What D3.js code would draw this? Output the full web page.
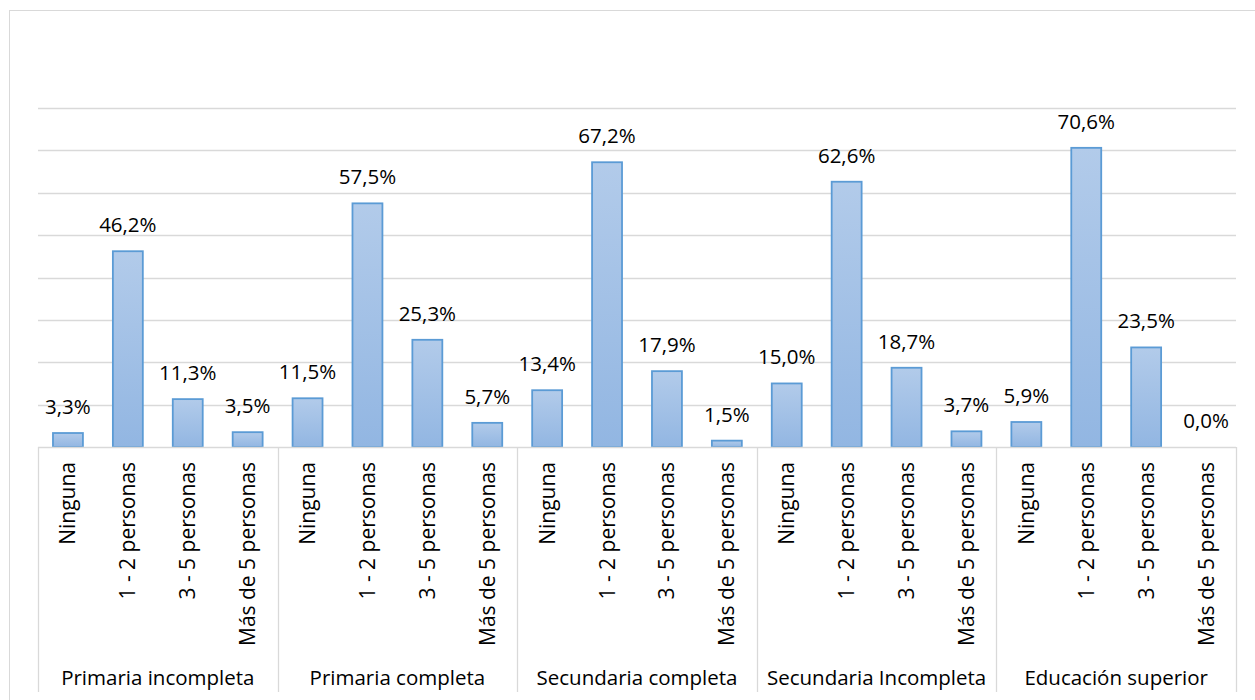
<!DOCTYPE html>
<html><head><meta charset="utf-8">
<script src="https://cdn.jsdelivr.net/npm/d3@7"></script>
<style>body{margin:0;background:#fff;} text{font-family:"Open Sans","Noto Sans",sans-serif;fill:#000;}</style>
</head><body>
<svg id="c" width="1255" height="700"></svg>
<script>
const groups = ["Primaria incompleta","Primaria completa","Secundaria completa","Secundaria Incompleta","Educación superior"];
const categories = ["Ninguna","1 - 2 personas","3 - 5 personas","Más de 5 personas"];
const values = [
  [3.3,46.2,11.3,3.5],
  [11.5,57.5,25.3,5.7],
  [13.4,67.2,17.9,1.5],
  [15.0,62.6,18.7,3.7],
  [5.9,70.6,23.5,0.0]
];
const yTicks = [0,10,20,30,40,50,60,70,80];

const svg = d3.select("#c");
const L=38, R=1236, T=108, B=447, BOT=692;
const defs = svg.append("defs");
const g = defs.append("linearGradient").attr("id","bg").attr("x1",0).attr("y1",0).attr("x2",0).attr("y2",1);
g.append("stop").attr("offset","0%").attr("stop-color","#b2cbea");
g.append("stop").attr("offset","100%").attr("stop-color","#92b6e2");

// outer border
svg.append("rect").attr("x",9.5).attr("y",10.5).attr("width",1260).attr("height",700).attr("fill","none").attr("stroke","#d9d9d9");

const y = d3.scaleLinear().domain([0,80]).range([B,T]);
const xg = d3.scaleBand().domain(groups).range([L,R]);
const xc = d3.scaleBand().domain(categories).range([0,xg.bandwidth()]).paddingInner(0.5).paddingOuter(0.25);

// gridlines
svg.append("g").selectAll("line").data(yTicks.slice(1)).join("line")
  .attr("x1",L).attr("x2",R).attr("y1",d=>Math.round(y(d))+0.5).attr("y2",d=>Math.round(y(d))+0.5)
  .attr("stroke","#d9d9d9").attr("stroke-width",1.3);

// bars
const gg = svg.append("g").selectAll("g").data(groups).join("g")
  .attr("transform",d=>`translate(${xg(d)},0)`);
gg.selectAll("rect").data((d,i)=>values[i].map((v,j)=>({c:categories[j],v}))).join("rect")
  .attr("x",d=>xc(d.c)).attr("width",xc.bandwidth())
  .attr("y",d=>y(d.v)).attr("height",d=>B-y(d.v))
  .attr("fill","url(#bg)").attr("stroke","#5b9bd5").attr("stroke-width",1.8);
gg.selectAll("text.v").data((d,i)=>values[i].map((v,j)=>({c:categories[j],v}))).join("text")
  .attr("class","v")
  .attr("x",d=>xc(d.c)+xc.bandwidth()/2).attr("y",d=>y(d.v)-19)
  .attr("text-anchor","middle").attr("font-size","20.5px")
  .text(d=>d.v.toFixed(1).replace(".",",")+"%");

// axis
svg.append("line").attr("x1",L).attr("x2",R).attr("y1",B+0.5).attr("y2",B+0.5).attr("stroke","#d9d9d9").attr("stroke-width",1.3);
const seps = groups.map(d=>xg(d)).concat([R]);
svg.append("g").selectAll("line").data(seps).join("line")
  .attr("x1",d=>Math.round(d)+0.5).attr("x2",d=>Math.round(d)+0.5).attr("y1",B).attr("y2",BOT)
  .attr("stroke","#d9d9d9").attr("stroke-width",1.3);

// category labels
gg.selectAll("text.c").data(categories).join("text").attr("class","c")
  .attr("transform",d=>`translate(${xc(d)+xc.bandwidth()/2+7.5},${B+15}) rotate(-90)`)
  .attr("text-anchor","end").attr("font-size","21px").text(d=>d);

// group labels
svg.append("g").selectAll("text").data(groups).join("text")
  .attr("x",d=>xg(d)+xg.bandwidth()/2).attr("y",685)
  .attr("text-anchor","middle").attr("font-size","20.5px").text(d=>d);
</script>
</body></html>
